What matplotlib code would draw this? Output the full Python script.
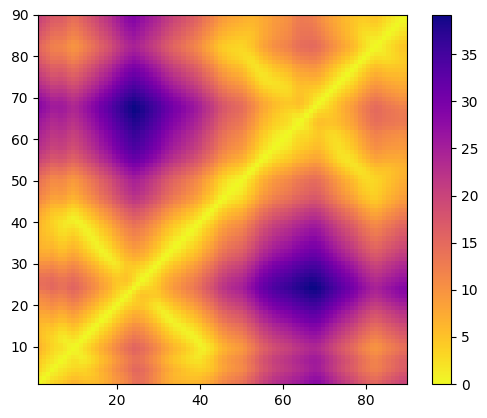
import numpy as np
import matplotlib
matplotlib.use("Agg")
import matplotlib.pyplot as plt

# two channels per step, read back from the rows and columns of the picture
series_a = [13, 13.5, 14, 14.8, 14.5, 14, 14.2, 15, 15.5, 15,
            14, 13, 12, 11, 10, 8.5, 7.5, 6.5, 5, 4,
            3, 2, 1, 0, 0.3, 1, 2, 3, 4, 5,
            6.5, 7.5, 8.5, 9.5, 10, 11, 12, 12.5, 13.5, 14.5,
            16, 17, 18, 19.5, 21, 22, 23, 23.5, 24, 24.5,
            25.5, 27, 28, 29.5, 31, 32, 33, 34, 34.5, 35,
            35.5, 36, 37, 37.5, 38, 38.5, 38.9, 38.7, 38, 37,
            36, 35, 34, 33, 32, 31, 30, 29, 27.5, 26.5,
            25.5, 24.5, 24, 24.3, 25, 25.5, 26, 26.5, 27, 27]
series_b = [0, 0.8, 1.6, 2.4, 3.2, 4, 4.6, 5.2, 5.6, 5.9,
            5.6, 5.4, 5.3, 5.2, 5.1, 5, 4.9, 4.8, 4.6, 4.2,
            3.3, 2.7, 3.5, 5, 6.5, 7.5, 7.5, 7, 6.5, 6,
            5.8, 5.6, 5.6, 5.7, 5.8, 5.9, 6, 6, 6.1, 6.2,
            6.3, 6.4, 6.5, 6.6, 6.7, 6.8, 6.9, 7, 7.1, 7.2,
            7.3, 7.4, 7.5, 7.6, 7.7, 7.8, 7.9, 8, 8.1, 8.2,
            8.2, 8, 7.3, 6.7, 7, 8.2, 9.5, 11, 12, 12,
            11.5, 11, 10.5, 10, 9.8, 9.6, 9.6, 9.6, 9.7, 9.8,
            10, 10.2, 10.5, 11, 11.6, 12.2, 12.8, 13.3, 13.7, 14]
x_ticks = [20, 40, 60, 80]
y_ticks = [10, 20, 30, 40, 50, 60, 70, 80, 90]
cbar_ticks = [0, 5, 10, 15, 20, 25, 30, 35]

series_a = np.array(series_a)
series_b = np.array(series_b)
dist = np.hypot(np.subtract.outer(series_a, series_a), np.subtract.outer(series_b, series_b))

fig = plt.figure(figsize=(4.87, 4.18), dpi=100)
ax = fig.add_axes([38 / 487, 1 - 384 / 418, 369 / 487, 369 / 418])
im = ax.imshow(dist, cmap="plasma_r", origin="lower", extent=(1, 90, 1, 90), aspect="auto")
ax.set_xticks(x_ticks)
ax.set_yticks(y_ticks)

cax = fig.add_axes([432 / 487, 1 - 384 / 418, 19 / 487, 369 / 418])
cbar = fig.colorbar(im, cax=cax)
cbar.set_ticks(cbar_ticks)

plt.savefig("out.png", dpi=100)
